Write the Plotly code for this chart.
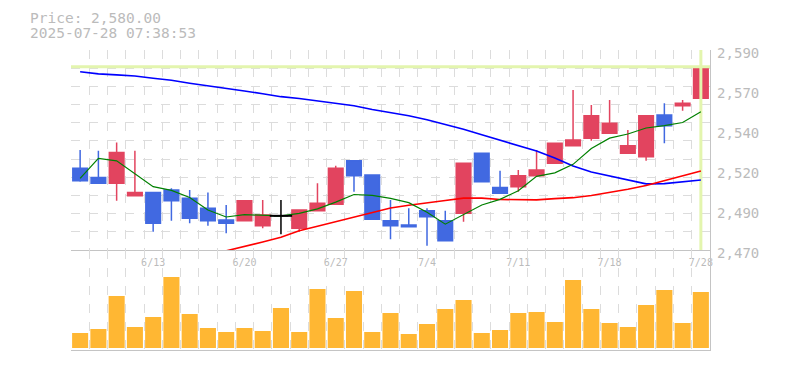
import plotly.graph_objects as go

# ---------------- data ----------------
dates = ["6/9", "6/10", "6/11", "6/12", "6/13",
         "6/16", "6/17", "6/18", "6/19", "6/20",
         "6/23", "6/24", "6/25", "6/26", "6/27",
         "6/30", "7/1", "7/2", "7/3", "7/4",
         "7/7", "7/8", "7/9", "7/10", "7/11",
         "7/14", "7/15", "7/16", "7/17", "7/18",
         "7/22", "7/23", "7/24", "7/25", "7/28"]
tick_labels = ["6/13", "6/20", "6/27", "7/4", "7/11", "7/18", "7/28"]

opens = [2519, 2513.5, 2510, 2502.5, 2504.5,
         2506, 2501, 2495, 2488, 2487.5,
         2484.5, 2490.5, 2483, 2493.5, 2497.5,
         2523.5, 2515, 2487.5, 2485, 2493.5,
         2487.5, 2492, 2528, 2507.5, 2508,
         2514.5, 2522, 2532.5, 2537, 2540,
         2528, 2526, 2551, 2556.5, 2561]
highs = [2530, 2529.5, 2534.5, 2529.5, 2504.5,
         2507, 2506, 2504.5, 2497, 2499.5,
         2500, 2500, 2494, 2510, 2520.5,
         2523.5, 2515, 2500, 2495, 2495,
         2493.5, 2522, 2528, 2517.5, 2518,
         2530, 2534, 2566, 2557, 2560,
         2542, 2550.5, 2558, 2560, 2589]
lows = [2511, 2510, 2499.5, 2502.5, 2481,
        2487.5, 2486, 2484.5, 2480, 2487.5,
        2483, 2479.5, 2481, 2493.5, 2497.5,
        2505, 2488.5, 2476.5, 2484, 2472.5,
        2475.5, 2487, 2511, 2504, 2505,
        2514.5, 2522, 2532.5, 2535.5, 2540,
        2528, 2523.5, 2534, 2553.5, 2559.5]
closes = [2511.5, 2510, 2528.5, 2504.5, 2486,
          2499.5, 2489, 2487.5, 2486, 2499.5,
          2491, 2490.5, 2494, 2498, 2519,
          2514.5, 2488.5, 2484.5, 2484, 2490,
          2475.5, 2522, 2511, 2504, 2514.5,
          2518, 2534, 2536, 2550.5, 2546,
          2532.5, 2550.5, 2544.5, 2558, 2580]
volumes = [75000, 95000, 260000, 105000, 155000,
           355000, 170000, 100000, 80000, 100000,
           85000, 200000, 80000, 295000, 150000,
           285000, 80000, 175000, 70000, 120000,
           195000, 240000, 75000, 90000, 175000,
           180000, 130000, 340000, 195000, 125000,
           105000, 215000, 290000, 125000, 280000]

ma_short = [2513, 2525, 2523.5, 2515.5, 2508,
            2505.8, 2501.5, 2494, 2489.8, 2491.2,
            2491, 2490.5, 2492, 2494.7, 2498.7,
            2503.3, 2502.8, 2501, 2498.4, 2492.6,
            2485.5, 2491.3, 2497, 2500.4, 2505.5,
            2514.2, 2516.3, 2521.4, 2530.9, 2537.1,
            2539.6, 2543.2, 2544.6, 2546.5, 2553]
ma_mid = [None, None, None, None, None,
          None, None, None, 2469.5, 2472,
          2474.8, 2477.6, 2481.5, 2484.2, 2486.9,
          2490, 2492.7, 2495.2, 2496.9, 2498.1,
          2499.7, 2501.1, 2501.1, 2500.3, 2500,
          2500.1, 2500.8, 2501.4, 2502.7, 2504.5,
          2506.4, 2508.7, 2511.5, 2514.4, 2517.4]
ma_long = [2577, 2575.7, 2575.1, 2574.4, 2573.1,
           2571.9, 2570.1, 2568.4, 2566.9, 2565.4,
           2563.8, 2562, 2560.9, 2559.5, 2558,
           2556.6, 2554.3, 2552.6, 2550.5, 2548.2,
           2545.4, 2542.4, 2539.1, 2535.8, 2532.6,
           2529.4, 2525.2, 2520.4, 2516.8, 2514.4,
           2511.7, 2509.7, 2509.8, 2511.1, 2512]

price_tick_labels = ["2,470", "2,490", "2,520", "2,540", "2,570", "2,590"]
price_min, price_max = 2470, 2590
timestamp = "2025-07-28 07:38:53"

# ---------------- styling ----------------
FONT = "DejaVu Sans Mono"
TEXT = "#bbbbbb"
GRID = "#dcdcdc"
AXIS = "#c4c4c4"
UP = "#e2445f"
DOWN = "#4169e1"
FLAT = "#000000"
VOL = "#ffb733"
NOW = "#e3f5ae"

n = len(dates)
x = list(range(n))
last = closes[-1]

fig = go.Figure()

# current-price guide lines
fig.add_trace(go.Scatter(x=[x[0] - 0.5, x[-1] + 0.5], y=[last, last], mode="lines",
                         line=dict(color=NOW, width=3), hoverinfo="skip"))
fig.add_trace(go.Scatter(x=[x[-1], x[-1]], y=[price_min, price_max], mode="lines",
                         line=dict(color=NOW, width=3), hoverinfo="skip"))

# moving averages
fig.add_trace(go.Scatter(x=x, y=ma_long, mode="lines", line=dict(color="#0000ff", width=1.6),
                         hoverinfo="skip"))
fig.add_trace(go.Scatter(x=x, y=ma_mid, mode="lines", line=dict(color="#ff0000", width=1.6),
                         hoverinfo="skip"))
fig.add_trace(go.Scatter(x=x, y=ma_short, mode="lines", line=dict(color="#008000", width=1.2),
                         hoverinfo="skip"))


def candles(idx, color):
    style = dict(line=dict(color=color, width=1.5), fillcolor=color)
    return go.Candlestick(
        x=[x[i] for i in idx], open=[opens[i] for i in idx], high=[highs[i] for i in idx],
        low=[lows[i] for i in idx], close=[closes[i] for i in idx],
        increasing=style, decreasing=style, whiskerwidth=0, hoverinfo="skip",
        xaxis="x", yaxis="y")


up_idx = [i for i in x if closes[i] > opens[i]]
down_idx = [i for i in x if closes[i] < opens[i]]
flat_idx = [i for i in x if closes[i] == opens[i]]

fig.add_trace(candles(up_idx, UP))
fig.add_trace(candles(down_idx, DOWN))
fig.add_trace(candles(flat_idx, FLAT))
# unchanged (doji) candles: horizontal body bar
fig.add_trace(go.Scatter(x=[x[i] for i in flat_idx], y=[closes[i] for i in flat_idx],
                         mode="markers", hoverinfo="skip",
                         marker=dict(symbol="line-ew", size=16,
                                     line=dict(color=FLAT, width=2))))

# volume
fig.add_trace(go.Bar(x=x, y=volumes, marker=dict(color=VOL, line=dict(width=0)),
                     xaxis="x2", yaxis="y2", hoverinfo="skip"))

grid_x = dict(tick0=-0.5, dtick=1, showgrid=True, gridcolor=GRID, griddash="dash", gridwidth=1)

fig.update_layout(
    width=785, height=370,
    margin=dict(l=71, r=75, t=50, b=20, autoexpand=False),
    paper_bgcolor="white", plot_bgcolor="white",
    showlegend=False, hovermode=False,
    boxmode="overlay", boxgap=0.2, boxgroupgap=0, bargap=0.12,
    font=dict(family=FONT, color=TEXT),
    xaxis=dict(domain=[0, 1], anchor="y", range=[-0.5, n - 0.5], automargin=False,
               tickmode="array", tickvals=[dates.index(t) for t in tick_labels],
               ticktext=tick_labels, tickfont=dict(size=10, color=TEXT),
               ticks="", showgrid=False, zeroline=False, ticklabelstandoff=3,
               showline=True, linecolor=AXIS, linewidth=1.3,
               rangeslider=dict(visible=False), minor=grid_x),
    yaxis=dict(domain=[1 / 3, 1], anchor="x", side="right", automargin=False,
               range=[price_min, price_max],
               tickmode="array",
               tickvals=[price_min + k * (price_max - price_min) / (len(price_tick_labels) - 1)
                         for k in range(len(price_tick_labels))],
               ticktext=price_tick_labels, tickfont=dict(size=14, color=TEXT),
               ticks="", showgrid=False, zeroline=False,
               showline=True, linecolor=AXIS, linewidth=1.3,
               ticklabelstandoff=3, ticklabelshift=3,
               minor=dict(tick0=price_min, dtick=(price_max - price_min) / 11, showgrid=True,
                          gridcolor=GRID, griddash="dash", gridwidth=1)),
    xaxis2=dict(domain=[0, 1], anchor="y2", range=[-0.5, n - 0.5], matches="x",
                automargin=False,
                showticklabels=False, ticks="", showgrid=False, zeroline=False,
                showline=True, linecolor=AXIS, linewidth=1.3, minor=grid_x),
    yaxis2=dict(domain=[0, 1 / 3], anchor="x2", side="right", automargin=False,
                range=[-10000, 490000], showticklabels=False, ticks="",
                showgrid=False, zeroline=False, showline=True, linecolor=AXIS, linewidth=1.3),
    annotations=[
        dict(text=f"Price: {last:,.2f}", xref="paper", yref="paper", x=-43 / 639, y=1.108,
             xanchor="left", yanchor="middle", showarrow=False,
             font=dict(family=FONT, size=14.5, color=TEXT)),
        dict(text=timestamp, xref="paper", yref="paper", x=-43 / 639, y=1.057,
             xanchor="left", yanchor="middle", showarrow=False,
             font=dict(family=FONT, size=14.5, color=TEXT)),
    ],
)

fig.write_html("out.html", config={"displayModeBar": False, "staticPlot": True},
               post_script="document.body.style.margin='0';")
